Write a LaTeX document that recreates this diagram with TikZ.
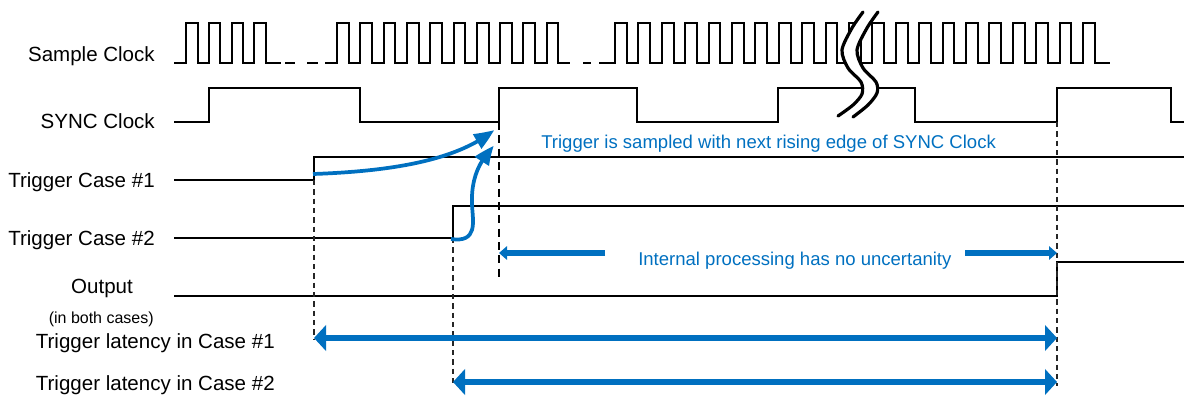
\documentclass[tikz,border=0pt]{standalone}
\usepackage{fontspec}
\setmainfont{Liberation Sans}
\usetikzlibrary{arrows.meta,bending}
\definecolor{trigblue}{RGB}{0,112,192}
\begin{document}
\begin{tikzpicture}[x=0.75pt,y=-0.75pt,line join=miter,
    wave/.style={line width=1.5pt},
    lbl/.style={anchor=base east,inner sep=0pt,font=\fontsize{15.4}{18}\selectfont},
    note/.style={anchor=base west,inner sep=0pt,text=trigblue,font=\fontsize{13.9}{16}\selectfont},
    guide/.style={line width=0.8pt,black!85,dash pattern=on 4pt off 3pt},
    sampled/.style={line width=2.8pt,trigblue,-{Triangle[length=15pt,width=12pt,bend]}},
    inner arrow/.style={line width=4.5pt,trigblue,-{Triangle[length=6pt,width=10pt]}},
    latency/.style={line width=5.2pt,trigblue,{Triangle[length=9pt,width=19pt]}-{Triangle[length=9pt,width=19pt]}},
    breakline/.style={line width=2.4pt,line cap=round}]
  \useasboundingbox (0,0) rectangle (1184,397);
  % sample clock
  \draw[wave] (174,63) \foreach \k in {0,...,3} {-- ({186+22.8*\k},63) -- ++(0,-40) -- ++(11.6,0) -- ++(0,40)} -- (281,63);
  \draw[wave] (285,63) -- (295,63) (307,63) -- (318,63);
  \draw[wave] (325,63) \foreach \k in {0,...,9} {-- ({337+23.3*\k},63) -- ++(0,-40) -- ++(11.7,0) -- ++(0,40)} -- (570,63);
  \draw[wave] (583,63) -- (591,63);
  \draw[wave] (599,63) \foreach \k in {0,...,20} {-- ({615+23.4*\k},63) -- ++(0,-40) -- ++(11.7,0) -- ++(0,40)} -- (1110,63);
  % sync clock and signals
  \draw[wave] (174,122) -- (209,122) -- (209,88) -- (360,88) -- (360,122) -- (499,122) -- (499,88)
    -- (637,88) -- (637,122) -- (778,122) -- (778,88) -- (915,88) -- (915,122) -- (1057,122)
    -- (1057,88) -- (1171,88) -- (1171,122) -- (1184,122);
  \draw[wave] (174,180) -- (314,180) -- (314,157) -- (1184,157);
  \draw[wave] (174,238) -- (453,238) -- (453,206) -- (1184,206);
  \draw[wave] (174,296) -- (1057,296) -- (1057,262) -- (1184,262);
  % break mark
  \fill[white] plot[smooth] coordinates {(863,12) (852,28) (842,50) (848,68) (861,82) (862,94) (853,105) (838,116)}
    -- plot[smooth] coordinates {(853,117) (868,105) (877,93) (876,82) (863,68) (857,50) (867,28) (878,12)} -- cycle;
  \draw[breakline] plot[smooth] coordinates {(863,12) (852,28) (842,50) (848,68) (861,82) (862,94) (853,105) (838,116)};
  \draw[breakline] plot[smooth] coordinates {(878,12) (867,28) (857,50) (863,68) (876,82) (877,93) (868,105) (853,117)};
  % labels
  \node[lbl] (sclk) at (155,61.5) {Sample Clock};
  \node[lbl] (sync) at (155,128) {SYNC Clock};
  \node[lbl] (case1) at (155,187) {Trigger Case \#1};
  \node[lbl] (case2) at (155,245) {Trigger Case \#2};
  \node[lbl,anchor=base] (out) at (102,293) {Output};
  \node[lbl,font=\fontsize{12}{14}\selectfont] (both) at (154,323) {(in both cases)};
  \node[lbl] (lat1) at (275,348) {Trigger latency in Case \#1};
  \node[lbl] (lat2) at (275,390) {Trigger latency in Case \#2};
  % edge points
  \coordinate (e1) at (314,180);
  \coordinate (e2) at (453,238);
  \coordinate (s1) at (499,122);
  \coordinate (s2) at (1057,122);
  \coordinate (l1a) at (314,338);
  \coordinate (l2a) at (453,382);
  \coordinate (l1b) at (1057,338);
  \coordinate (l2b) at (1057,382);
  \draw[guide] (e1) -- (314,340);
  \draw[guide] (e2) -- (453,384);
  \draw[guide] (s2) -- (1057,386);
  \draw[line width=1.4pt,dash pattern=on 6pt off 4pt] (s1) -- (499,278);
  % trigger sampling
  \draw[sampled] (313,174) .. controls (400,171) and (460,158) .. (494,130);
  \draw[sampled] (451,239) .. controls (478,243) and (473,222) .. (472,205) .. controls (471,180) and (478,162) .. (494,146);
  \node[note] (smp) at (541,148) {Trigger is sampled with next rising edge of SYNC Clock};
  \node[note] (proc) at (638,265) {Internal processing has no uncertanity};
  \coordinate (p0) at (499,253);
  \coordinate (p1) at (605,253);
  \coordinate (p2) at (965,253);
  \coordinate (p3) at (1057,253);
  \draw[inner arrow] (p1) -- (p0);
  \draw[inner arrow] (p2) -- (p3);
  \draw[latency] (l1a) -- (l1b);
  \draw[latency] (l2a) -- (l2b);
\end{tikzpicture}
\end{document}
